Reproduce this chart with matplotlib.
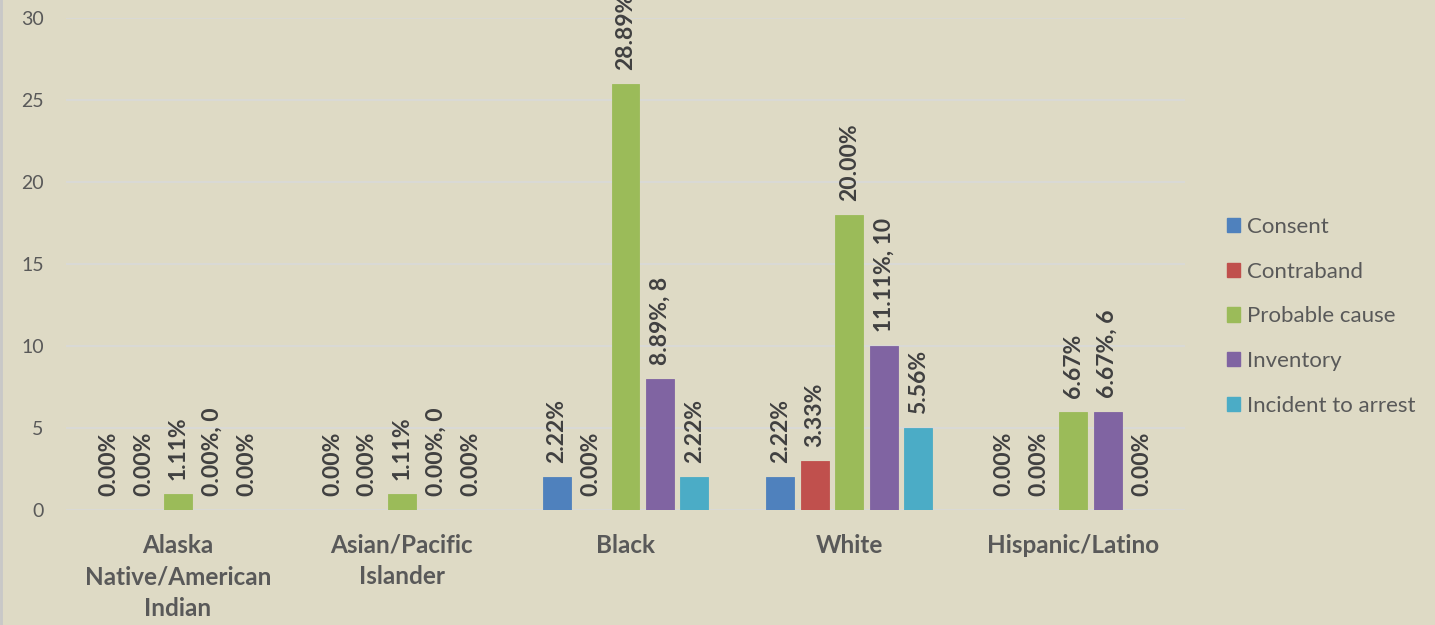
import matplotlib
matplotlib.use("Agg")
import matplotlib.pyplot as plt
import numpy as np
from matplotlib.patches import Patch
from matplotlib.lines import Line2D

categories = ["Alaska\nNative/American\nIndian", "Asian/Pacific\nIslander", "Black", "White", "Hispanic/Latino"]
series = ["Consent", "Contraband", "Probable cause", "Inventory", "Incident to arrest"]
consent = [0, 0, 2, 2, 0]
contraband = [0, 0, 0, 3, 0]
probable = [1, 1, 26, 18, 6]
inventory = [0, 0, 8, 10, 6]
incident = [0, 0, 2, 5, 0]
labels_consent = ["0.00%", "0.00%", "2.22%", "2.22%", "0.00%"]
labels_contraband = ["0.00%", "0.00%", "0.00%", "3.33%", "0.00%"]
labels_probable = ["1.11%", "1.11%", "28.89%", "20.00%", "6.67%"]
labels_inventory = ["0.00%, 0", "0.00%, 0", "8.89%, 8", "11.11%, 10", "6.67%, 6"]
labels_incident = ["0.00%", "0.00%", "2.22%", "5.56%", "0.00%"]
yticks = [0, 5, 10, 15, 20, 25, 30]

colors = ["#4F81BD", "#C0504D", "#9BBB59", "#8064A2", "#4BACC6"]
bg = "#DEDAC5"
font = ["Lato", "DejaVu Sans"]
plt.rcParams['font.family'] = font

values = [consent, contraband, probable, inventory, incident]
labels = [labels_consent, labels_contraband, labels_probable, labels_inventory, labels_incident]

fig = plt.figure(figsize=(14.35, 6.25), dpi=100, facecolor=bg)
ax = fig.add_axes([66/1435, 115/625, (1185-66)/1435, (510-18)/625], facecolor=bg)

x = np.arange(len(categories))
step = 34.5/224
width = 28/224
for i, (vals, labs, c) in enumerate(zip(values, labels, colors)):
    pos = x + (i - 2) * step
    ax.bar(pos, vals, width=width, color=c, edgecolor=c, linewidth=0.6, zorder=3)
    for p, v, t in zip(pos, vals, labs):
        ax.annotate(t, (p, v), xytext=(0, 10), textcoords="offset points",
                    rotation=90, ha="center", va="bottom", fontsize=16.5,
                    fontweight="bold", color="#404040", annotation_clip=False)

ax.set_xlim(-0.5, len(categories) - 0.5)
ax.set_ylim(0, 30)
ax.set_yticks(yticks)
ax.set_yticklabels([str(t) for t in yticks], fontsize=14, color="#595959")
ax.set_xticks(x)
ax.set_xticklabels(categories, fontsize=17.5, fontweight="bold", color="#595959", linespacing=1.45)
ax.tick_params(axis="both", length=0)
ax.tick_params(axis="y", pad=16)
ax.tick_params(axis="x", pad=17)
ax.grid(axis="y", color="#D9D9D9", linewidth=1.2, zorder=0)
for s in ax.spines.values():
    s.set_visible(False)

handles = [Patch(facecolor=c, edgecolor=c) for c in colors]
leg = fig.legend(handles, series, loc="upper left", bbox_to_anchor=(1207/1435, 1 - 197/625),
                 frameon=False, fontsize=16, labelcolor="#595959", handlelength=0.6,
                 handleheight=0.6, handletextpad=0.3, labelspacing=1.11)

fig.add_artist(Line2D([1/1435, 1/1435], [0, 1], color="#C8C8C8", linewidth=2, transform=fig.transFigure))

fig.savefig("out.png", dpi=100, facecolor=bg)
